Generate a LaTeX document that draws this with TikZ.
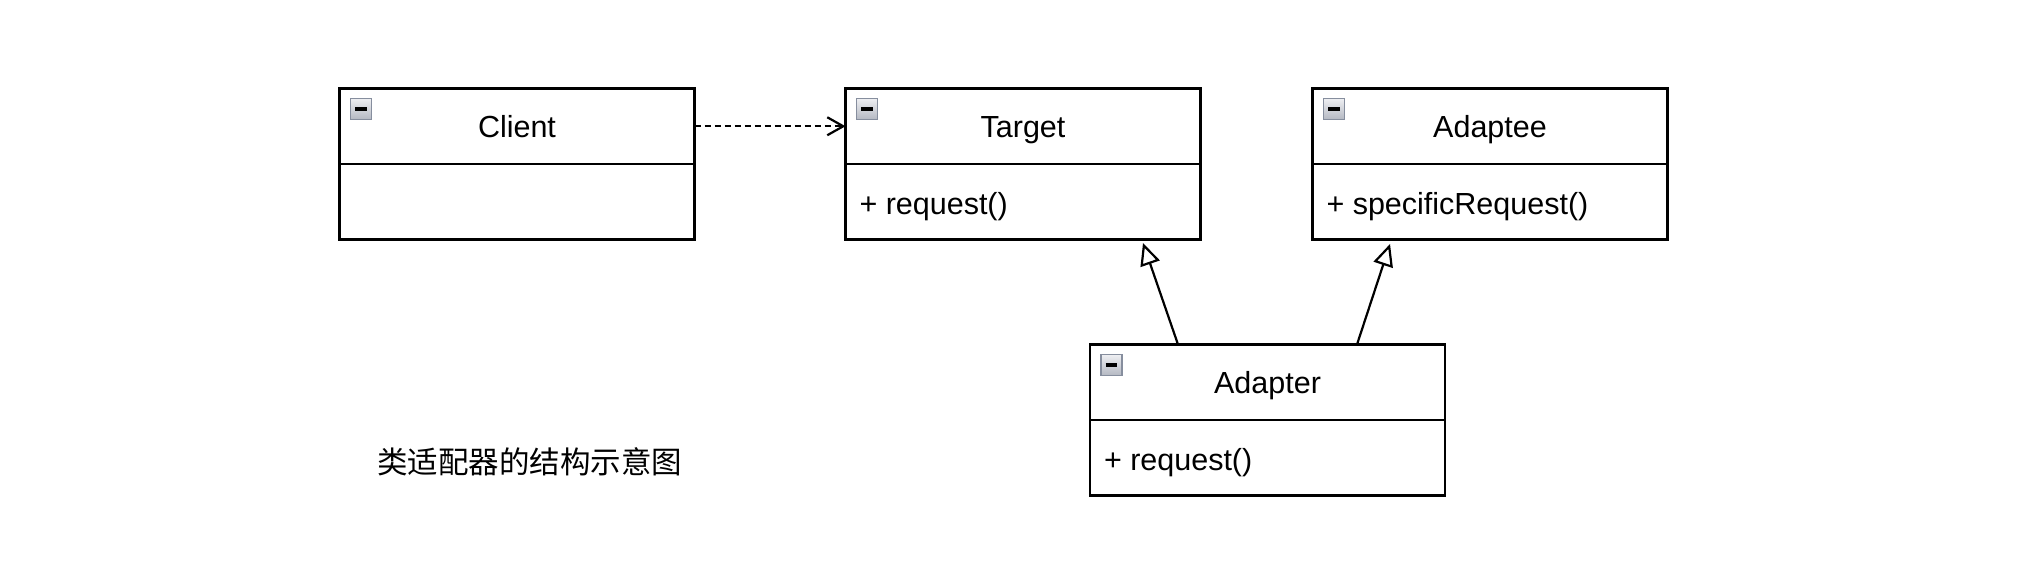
\documentclass[tikz,border=0pt]{standalone}
\usepackage{fontspec}
\setmainfont{Liberation Sans}
\newfontfamily\cjk{Noto Sans CJK SC}
\usetikzlibrary{arrows.meta,positioning,calc}
\definecolor{iconedge}{HTML}{868E9E}
\definecolor{icontop}{HTML}{EEEFF2}
\definecolor{iconbot}{HTML}{B4B8C2}
\tikzset{
  every node/.style={font=\fontsize{15.25pt}{18pt}\selectfont, inner sep=0pt, outer sep=0pt},
  boxhead/.style={draw=black, line width=1.15pt, fill=white, minimum width=177.5pt, minimum height=37.75pt, text height=12.4pt, text depth=1.6pt, anchor=north west},
  boxbody/.style={draw=black, line width=1.15pt, fill=white, minimum width=177.5pt, minimum height=37.75pt, anchor=north},
  member/.style={anchor=west, text height=12.4pt, text depth=1.6pt, yshift=-1pt},
  depend/.style={line width=1.1pt, dash pattern=on 3pt off 2pt, -{Straight Barb[length=8pt,width=9pt,line width=1.1pt]}},
  inherit/.style={line width=1.1pt, -{Triangle[open,length=11pt,width=10pt,line width=1.1pt,fill=white]}},
  iconbox/.style={draw=iconedge, line width=0.9pt, top color=icontop, bottom color=iconbot}
}
\newcommand{\minusicon}[1]{%
  \path[iconbox] ($(#1.north west)+(5.5pt,-5pt)$) rectangle ++(10.5pt,-10.5pt);
  \draw[line width=1.7pt] ($(#1.north west)+(7.8pt,-10.25pt)$) -- ++(5.9pt,0);
}
\begin{document}
\begin{tikzpicture}[x=0.5pt,y=-0.5pt]
\useasboundingbox (0,0) rectangle (2040,563);
% Client
\node[boxhead] (client) at (339.5,88.5) {Client};
\node[boxbody] (clientb) at (client.south) {};
% Target
\node[boxhead] (target) at (845.5,88.5) {Target};
\node[boxbody] (targetb) at (target.south) {};
\node[member] (targetm) at ($(targetb.west)+(7pt,0)$) {+ request()};
% Adaptee
\node[boxhead] (adaptee) at (1312.5,88.5) {Adaptee};
\node[boxbody] (adapteeb) at (adaptee.south) {};
\node[member] (adapteem) at ($(adapteeb.west)+(7pt,0)$) {+ specificRequest()};
% Adapter
\node[boxhead] (adapter) at (1090,344.5) {Adapter};
\node[boxbody] (adapterb) at (adapter.south) {};
\node[member] (adapterm) at ($(adapterb.west)+(7pt,0)$) {+ request()};
% icons
\minusicon{client}
\minusicon{target}
\minusicon{adaptee}
\minusicon{adapter}
% connectors
\draw[depend] (client.east) -- (target.west);
\coordinate (a1) at (1178,344.5);
\coordinate (t1) at (1143,243);
\coordinate (a2) at (1357,344.5);
\coordinate (t2) at (1390,244);
\draw[inherit] (a1) -- (t1);
\draw[inherit] (a2) -- (t2);
% caption
\node[anchor=west] (caption) at (377,462) {\cjk 类适配器的结构示意图};
\end{tikzpicture}
\end{document}
